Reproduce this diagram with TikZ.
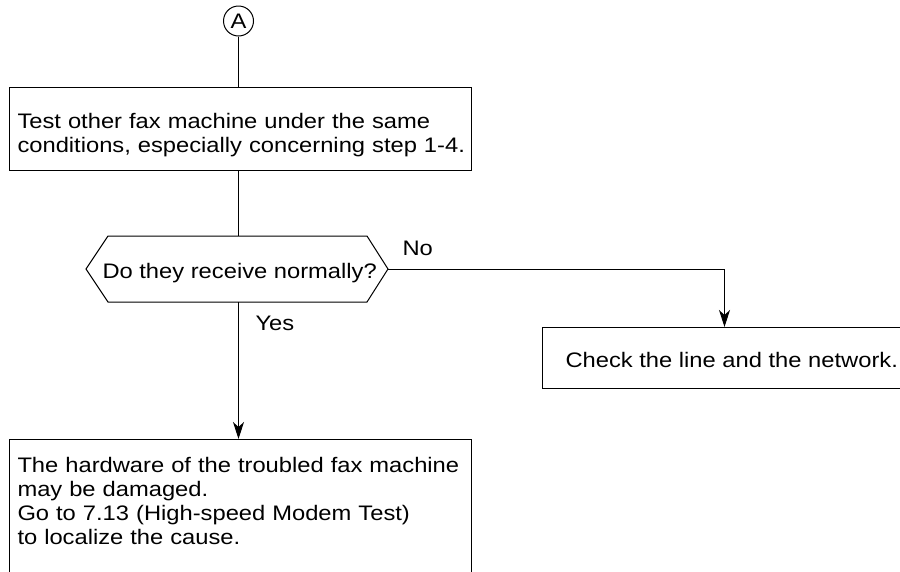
\documentclass[tikz,border=0pt]{standalone}
\usepackage{fontspec}
\setmainfont[FakeStretch=1.13]{Liberation Sans}
\usetikzlibrary{arrows.meta}
\begin{document}
\begin{tikzpicture}[x=1pt,y=-1pt, line width=1pt,
  box/.style={draw, rectangle, inner sep=0pt, anchor=north west},
  txt/.style={anchor=base west, inner sep=0pt, align=left, text width=600pt, font=\fontsize{21}{24.3}\selectfont},
  lbl/.style={anchor=base west, inner sep=0pt, font=\fontsize{21}{24.3}\selectfont},
  arr/.style={-{Stealth[length=17pt,width=11pt,inset=5pt]}}]
\useasboundingbox (0,0) rectangle (900,571);
\clip (0,0) rectangle (900,571);
% connector circle
\node[draw, circle, minimum size=30pt, inner sep=0pt, font=\fontsize{21}{24}\selectfont] (A) at (238.5,21) {A};
% boxes
\node[box, minimum width=462pt, minimum height=83pt] (b1) at (9,87) {};
\node[box, minimum width=365pt, minimum height=61pt] (b2) at (541.5,327) {};
\node[box, minimum width=462pt, minimum height=200pt] (b3) at (9,439) {};
% decision hexagon
\coordinate (decN) at (238.5,236);
\coordinate (decS) at (238.5,302);
\coordinate (decE) at (388,269);
\coordinate (decW) at (86,269);
\draw (decW) -- (108,236) -- (367,236) -- (decE) -- (367,302) -- (108,302) -- cycle;
% texts
\node[txt] (t1) at (17,128) {Test other fax machine under the same\\conditions, especially concerning step 1-4.};
\node[lbl] (tq) at (102,278) {Do they receive normally?};
\node[lbl] (t2) at (565,367) {Check the line and the network.};
\node[txt] (t3) at (17,472) {The hardware of the troubled fax machine\\may be damaged.\\Go to 7.13 (High-speed Modem Test)\\to localize the cause.};
\node[lbl] (no) at (402,255) {No};
\node[lbl] (yes) at (255,330) {Yes};
% connectors
\draw (A.south) -- (A.south |- b1.north);
\draw (A |- b1.south) -- (decN);
\draw[arr] (decS) -- (decS |- b3.north);
\draw[arr] (decE) -| (b2.north);
\end{tikzpicture}
\end{document}
